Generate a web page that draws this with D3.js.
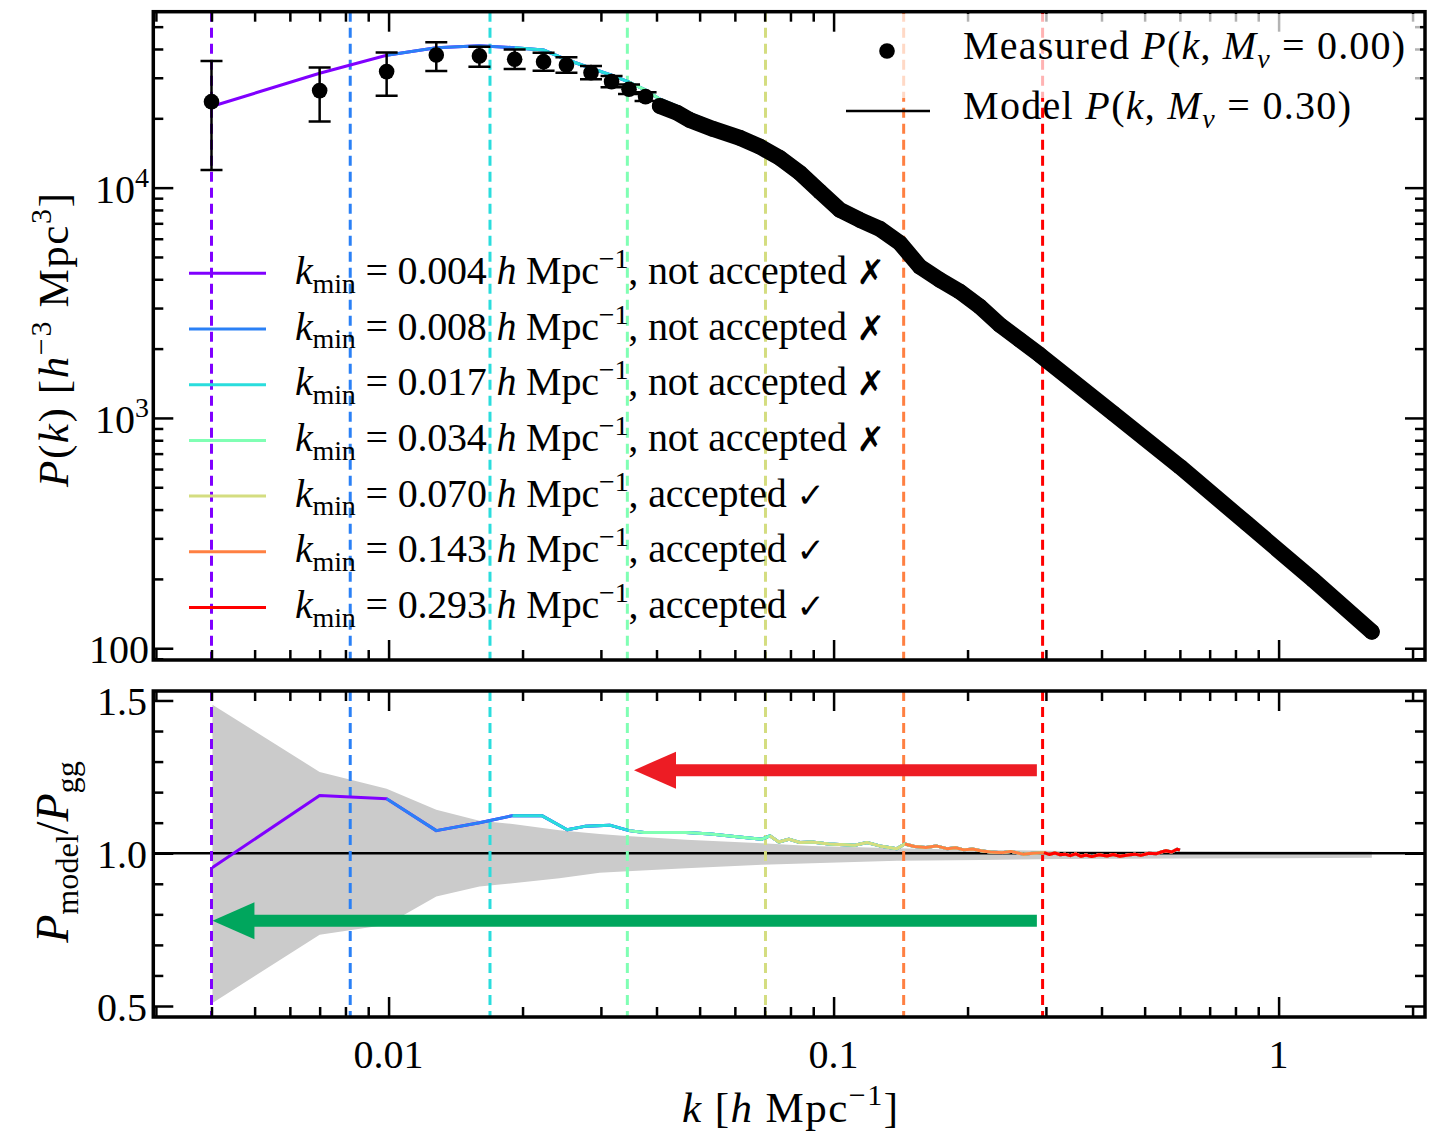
<!DOCTYPE html>
<html>
<head>
<meta charset="utf-8">
<script src="https://cdn.jsdelivr.net/npm/d3@7"></script>
<style>
  body { margin: 0; background: #fff; }
  text { white-space: pre; }
</style>
</head>
<body>
<script>
// measured P(k) for Mnu = 0.00 (first points with error bars, then the dense band)
const measuredK = [0.0040, 0.0070, 0.0099, 0.0128, 0.0160, 0.0192, 0.0223, 0.0251, 0.0285, 0.0317, 0.0347, 0.0378,
  0.0407, 0.0444, 0.0475, 0.0536, 0.0616, 0.0683, 0.0757, 0.0840, 0.0932, 0.1033, 0.1146, 0.1271, 0.1409, 0.1562,
  0.1733, 0.1922, 0.2132, 0.2364, 0.2622, 0.2908, 0.4248, 0.6003, 0.8473, 1.196, 1.62]
const measuredP = [23620, 26380, 31900, 37690, 37320, 36090, 35240, 34100, 31570, 28860, 26750, 24840,
  22630, 21180, 19680, 17980, 16440, 15070, 13460, 11580, 9610, 8000, 7240, 6620, 5750, 4540,
  3975, 3535, 3043, 2534, 2182, 1877, 1048, 614, 349, 198, 118]
const errLow = [11940, 19350, 25090, 32120, 33530, 32770, 32210, 31570, 29560, 27290, 25520, 23750]
const errHigh = [35500, 33200, 38570, 42800, 40950, 39780, 38550, 36830, 33730, 30520, 28030, 25980]

// model P(k) for Mnu = 0.30 on the same k bins (up to k = 0.6)
const modelP = [22510, 31370, 37580, 40480, 41300, 40530, 39570, 36000, 33000, 30800, 28700, 26500,
  24200, 22600, 21000, 19100, 17300, 15750, 13950, 11990, 9900, 8240, 7430, 6780, 5840, 4630,
  4040, 3575, 3070, 2540, 2175, 1880, 1042, 620]

// ratio P_model / P_gg
const ratioK = [0.00402, 0.0070, 0.0099, 0.0128, 0.0160, 0.0190, 0.0221, 0.0252, 0.0276, 0.0314, 0.0347, 0.0375,
  0.0466, 0.0530, 0.0606, 0.0690, 0.0719, 0.0753, 0.0793, 0.0840, 0.0894, 0.0976, 0.1116, 0.1188, 0.1270,
  0.1387, 0.1446, 0.1520, 0.1612, 0.1700, 0.1797, 0.1880, 0.1963, 0.2050, 0.2143, 0.2250, 0.2391, 0.2500,
  0.2665, 0.2800, 0.2971, 0.3050, 0.3140, 0.3230, 0.3312, 0.3400, 0.3500, 0.3600, 0.3692, 0.3800, 0.3950,
  0.4115, 0.4250, 0.4400, 0.4588, 0.4750, 0.4900, 0.5114, 0.5300, 0.5450, 0.5586, 0.5750, 0.5911, 0.6000]
const ratioVal = [0.953, 1.189, 1.178, 1.074, 1.100, 1.123, 1.123, 1.077, 1.088, 1.092, 1.074, 1.068,
  1.068, 1.063, 1.054, 1.046, 1.057, 1.037, 1.046, 1.035, 1.037, 1.030, 1.026, 1.035, 1.024,
  1.015, 1.030, 1.022, 1.019, 1.024, 1.015, 1.018, 1.011, 1.014, 1.008, 1.004, 1.002, 1.006,
  0.997, 1.000, 1.002, 0.996, 1.001, 0.995, 0.997, 0.992, 0.998, 0.990, 0.994, 0.989, 0.995,
  0.991, 0.996, 0.990, 0.994, 0.997, 0.993, 1.000, 0.998, 1.004, 1.008, 1.004, 1.013, 1.010]

// grey error band on the ratio
const sigmaK = [0.00402, 0.0070, 0.0099, 0.0128, 0.0160, 0.0190, 0.0242, 0.0298, 0.0336, 0.0466, 0.0690, 0.0894,
  0.1387, 0.2143, 0.331, 0.60, 1.0, 1.62]
const sigmaHi = [1.486, 1.266, 1.211, 1.142, 1.106, 1.096, 1.075, 1.063, 1.057, 1.044, 1.033, 1.024,
  1.016, 1.011, 1.0075, 1.007, 1.006, 1.006]
const sigmaLo = [0.510, 0.733, 0.766, 0.858, 0.891, 0.902, 0.918, 0.936, 0.940, 0.951, 0.962, 0.967,
  0.975, 0.978, 0.981, 0.983, 0.984, 0.985]

// k_min cuts
const kminValues = [0.0040, 0.0082, 0.0169, 0.0344, 0.0703, 0.1437, 0.2949]
const kminLabels = ["0.004", "0.008", "0.017", "0.034", "0.070", "0.143", "0.293"]
const accepted = [false, false, false, false, true, true, true]
const colors = ["#8000ff", "#2a80f6", "#2adddd", "#80ffb4", "#d4dd80", "#ff8042", "#ff0000"]

const xTickLabels = ["0.01", "0.1", "1"]
const xMajor = [0.01, 0.1, 1]
const xMinor = [0.003, 0.004, 0.005, 0.006, 0.007, 0.008, 0.009, 0.02, 0.03, 0.04, 0.05, 0.06, 0.07, 0.08, 0.09,
  0.2, 0.3, 0.4, 0.5, 0.6, 0.7, 0.8, 0.9, 2]
const yTopMajor = [100, 1000, 10000]
const yTopMinor = [90, 200, 300, 400, 500, 600, 700, 800, 900, 2000, 3000, 4000, 5000, 6000, 7000, 8000, 9000,
  20000, 30000, 40000, 50000]
const yBotMajor = [0.5, 1.0, 1.5]
const yBotMinor = [0.6, 0.7, 0.8, 0.9, 1.1, 1.2, 1.3, 1.4]

const width = 1429
const height = 1137
const left = 153.3, right = 1425
const topY0 = 11.7, topY1 = 660
const botY0 = 691, botY1 = 1017
const serif = "'Liberation Serif', 'Times New Roman', serif"
const fs = 40

const x = d3.scaleLog().domain([0.00296, 2.133]).range([left, right])
const yTop = d3.scaleLog().domain([88.9, 58070]).range([topY1, topY0])
const yBot = d3.scaleLinear().domain([0.464, 1.531]).range([botY1, botY0])

const svg = d3.select("body").append("svg")
  .attr("width", width)
  .attr("height", height)
  .style("font-family", serif)

svg.append("defs").call(d => {
  d.append("clipPath").attr("id", "clipTop").append("rect")
    .attr("x", left).attr("y", topY0).attr("width", right - left).attr("height", topY1 - topY0)
  d.append("clipPath").attr("id", "clipBot").append("rect")
    .attr("x", left).attr("y", botY0).attr("width", right - left).attr("height", botY1 - botY0)
})

// text with italic / sub / sup pieces
function rich(g, px, py, parts, size, anchor, len) {
  const t = g.append("text").attr("x", px).attr("y", py)
    .attr("font-size", size).attr("text-anchor", anchor || "start").attr("fill", "#000")
  if (len) t.attr("textLength", len).attr("lengthAdjust", "spacing")
  let shift = 0
  parts.forEach(p => {
    const s = p.sub ? size * 0.22 : p.sup ? -size * 0.4 : 0
    const ts = t.append("tspan").text(p.t).attr("dy", s - shift)
    shift = s
    if (p.i) ts.attr("font-style", "italic")
    if (p.sub || p.sup) ts.attr("font-size", size * 0.7)
    if (p.sym) ts.attr("font-family", "'DejaVu Sans', sans-serif").attr("font-weight", "bold").attr("font-size", size * 0.85)
  })
  return t
}

// ---------- top panel ----------
const topPlot = svg.append("g").attr("clip-path", "url(#clipTop)")

kminValues.forEach((k, i) => {
  topPlot.append("line")
    .attr("x1", x(k)).attr("x2", x(k)).attr("y1", topY0).attr("y2", topY1)
    .attr("stroke", colors[i]).attr("stroke-width", 3).attr("stroke-dasharray", "10,6")
})

const modelPts = modelP.map((p, i) => ({ k: measuredK[i], p: p }))
const topLine = d3.line().x(d => x(d.k)).y(d => yTop(d.p))
kminValues.forEach((k, i) => {
  topPlot.append("path")
    .datum(modelPts.filter(d => d.k >= k))
    .attr("d", topLine)
    .attr("fill", "none").attr("stroke", colors[i]).attr("stroke-width", 3)
})

const measPts = measuredP.map((p, i) => ({ k: measuredK[i], p: p }))
// dense part: markers overlap into a thick band
topPlot.append("path")
  .datum(measPts.filter(d => d.k > 0.04))
  .attr("d", topLine)
  .attr("fill", "none").attr("stroke", "#000").attr("stroke-width", 16)
  .attr("stroke-linejoin", "round").attr("stroke-linecap", "round")

errLow.forEach((lo, i) => {
  const cx = x(measuredK[i])
  topPlot.append("line").attr("x1", cx).attr("x2", cx)
    .attr("y1", yTop(lo)).attr("y2", yTop(errHigh[i])).attr("stroke", "#000").attr("stroke-width", 2.5)
  ;[lo, errHigh[i]].forEach(v => {
    topPlot.append("line").attr("x1", cx - 11).attr("x2", cx + 11)
      .attr("y1", yTop(v)).attr("y2", yTop(v)).attr("stroke", "#000").attr("stroke-width", 2.5)
  })
})
topPlot.selectAll("circle.meas").data(measPts).enter().append("circle")
  .attr("class", "meas")
  .attr("cx", d => x(d.k)).attr("cy", d => yTop(d.p)).attr("r", 7.8).attr("fill", "#000")

// ---------- bottom panel ----------
const botPlot = svg.append("g").attr("clip-path", "url(#clipBot)")

const band = sigmaK.map((k, i) => ({ k: k, lo: sigmaLo[i], hi: sigmaHi[i] }))
botPlot.append("path").datum(band)
  .attr("d", d3.area().x(d => x(d.k)).y0(d => yBot(d.lo)).y1(d => yBot(d.hi)))
  .attr("fill", "#cbcbcb")

botPlot.append("line").attr("x1", left).attr("x2", right)
  .attr("y1", yBot(1)).attr("y2", yBot(1)).attr("stroke", "#000").attr("stroke-width", 2.5)

kminValues.forEach((k, i) => {
  botPlot.append("line")
    .attr("x1", x(k)).attr("x2", x(k)).attr("y1", botY0).attr("y2", botY1)
    .attr("stroke", colors[i]).attr("stroke-width", 3).attr("stroke-dasharray", "10,6")
})

const ratioPts = ratioVal.map((r, i) => ({ k: ratioK[i], r: r }))
const botLine = d3.line().x(d => x(d.k)).y(d => yBot(d.r))
kminValues.forEach((k, i) => {
  botPlot.append("path")
    .datum(ratioPts.filter(d => d.k >= k))
    .attr("d", botLine)
    .attr("fill", "none").attr("stroke", colors[i]).attr("stroke-width", 3)
    .attr("stroke-linejoin", "round")
})

// arrows
const arrows = [
  { from: 0.2863, to: 0.0356, r: 1.272, color: "#ed1c24" },
  { from: 0.2863, to: 0.00402, r: 0.779, color: "#00a65d" }
]
arrows.forEach(a => {
  const xt = x(a.to), xf = x(a.from), yy = yBot(a.r)
  botPlot.append("line").attr("x1", xt + 40).attr("x2", xf)
    .attr("y1", yy).attr("y2", yy).attr("stroke", a.color).attr("stroke-width", 12)
  botPlot.append("path")
    .attr("d", `M${xt},${yy} L${xt + 42},${yy - 18.5} L${xt + 42},${yy + 18.5} Z`)
    .attr("fill", a.color)
})

// ---------- ticks and frames ----------
function tickSet(axisFn, scale, values, size, tx, ty) {
  svg.append("g").attr("transform", `translate(${tx},${ty})`)
    .call(axisFn(scale).tickValues(values).tickSize(size).tickFormat(""))
    .call(g => g.select(".domain").remove())
    .call(g => g.selectAll("line").attr("stroke", "#000").attr("stroke-width", 2.5))
}
;[[topY0, topY1, yTop, yTopMajor, yTopMinor], [botY0, botY1, yBot, yBotMajor, yBotMinor]].forEach(p => {
  const [y0, y1, ys, maj, min] = p
  tickSet(d3.axisBottom, x, xMajor, -20, 0, y1)
  tickSet(d3.axisBottom, x, xMinor, -10, 0, y1)
  tickSet(d3.axisTop, x, xMajor, -20, 0, y0)
  tickSet(d3.axisTop, x, xMinor, -10, 0, y0)
  tickSet(d3.axisLeft, ys, maj, -20, left, 0)
  tickSet(d3.axisLeft, ys, min, -10, left, 0)
  tickSet(d3.axisRight, ys, maj, -20, right, 0)
  tickSet(d3.axisRight, ys, min, -10, right, 0)
  svg.append("rect").attr("x", left).attr("y", y0).attr("width", right - left).attr("height", y1 - y0)
    .attr("fill", "none").attr("stroke", "#000").attr("stroke-width", 3.5)
})

// tick labels
xMajor.forEach((v, i) => {
  svg.append("text").attr("x", x(v)).attr("y", 1068).attr("text-anchor", "middle")
    .attr("font-size", fs).text(xTickLabels[i])
})
yTopMajor.forEach(v => {
  const e = Math.round(Math.log10(v))
  const parts = e === 2 ? [{ t: "100" }] : [{ t: "10" }, { t: String(e), sup: true }]
  rich(svg, 149, yTop(v) + 15, parts, fs, "end")
})
yBotMajor.forEach(v => {
  svg.append("text").attr("x", 147).attr("y", yBot(v) + 15).attr("text-anchor", "end")
    .attr("font-size", fs).text(v.toFixed(1))
})

// axis titles
rich(svg, 790, 1122, [{ t: "k", i: true }, { t: " [" }, { t: "h", i: true }, { t: " Mpc" }, { t: "−1", sup: true }, { t: "]" }],
  43, "middle", 216)
rich(svg.append("g").attr("transform", "translate(68,340) rotate(-90)"), 0, 0,
  [{ t: "P", i: true }, { t: "(" }, { t: "k", i: true }, { t: ") [" }, { t: "h", i: true }, { t: "−3", sup: true },
   { t: " Mpc" }, { t: "3", sup: true }, { t: "]" }], 43, "middle", 294)
rich(svg.append("g").attr("transform", "translate(68,852) rotate(-90)"), 0, 0,
  [{ t: "P", i: true }, { t: "model", sub: true }, { t: "/" }, { t: "P", i: true }, { t: "gg", sub: true }], 46, "middle")

// k_min legend
kminValues.forEach((k, i) => {
  const cy = 273.3 + i * 55.7
  svg.append("line").attr("x1", 189).attr("x2", 266).attr("y1", cy).attr("y2", cy)
    .attr("stroke", colors[i]).attr("stroke-width", 3)
  rich(svg, 295, cy + 10.5, [
    { t: "k", i: true }, { t: "min", sub: true }, { t: " = " + kminLabels[i] + " " }, { t: "h", i: true },
    { t: " Mpc" }, { t: "−1", sup: true },
    { t: accepted[i] ? ", accepted " : ", not accepted " }, { t: accepted[i] ? "✓" : "✗", sym: true }
  ], fs, "start", accepted[i] ? 530 : 590)
})

// measured / model legend
svg.append("rect").attr("x", 840).attr("y", 14).attr("width", 580).attr("height", 84)
  .attr("fill", "#fff").attr("opacity", 0.7)
svg.append("circle").attr("cx", 887).attr("cy", 51).attr("r", 7.8).attr("fill", "#000")
svg.append("line").attr("x1", 846).attr("x2", 930).attr("y1", 111).attr("y2", 111)
  .attr("stroke", "#000").attr("stroke-width", 2.5)
rich(svg, 963, 59, [{ t: "Measured " }, { t: "P", i: true }, { t: "(" }, { t: "k", i: true }, { t: ", " },
  { t: "M", i: true }, { t: "ν", i: true, sub: true }, { t: " = 0.00)" }], fs, "start", 442)
rich(svg, 963, 119, [{ t: "Model " }, { t: "P", i: true }, { t: "(" }, { t: "k", i: true }, { t: ", " },
  { t: "M", i: true }, { t: "ν", i: true, sub: true }, { t: " = 0.30)" }], fs, "start", 388)
</script>
</body>
</html>
